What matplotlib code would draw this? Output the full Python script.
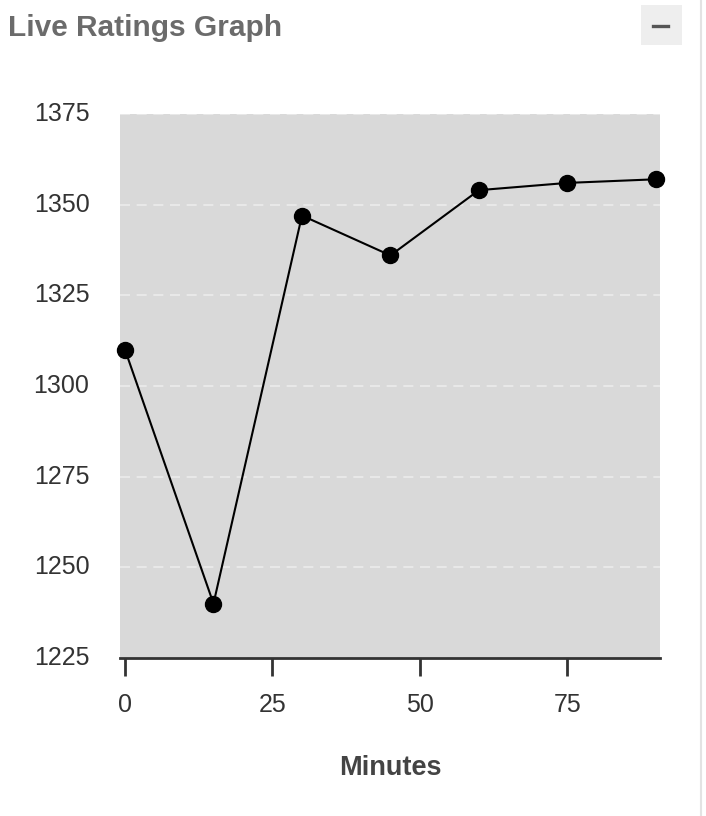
import matplotlib
matplotlib.use("Agg")
import matplotlib.pyplot as plt
from matplotlib.patches import Rectangle
from matplotlib.lines import Line2D

minutes = [0, 15, 30, 45, 60, 75, 90]
ratings = [1310, 1240, 1347, 1336, 1354, 1356, 1357]
x_ticks = [0, 25, 50, 75]
y_ticks = [1225, 1250, 1275, 1300, 1325, 1350, 1375]

plt.rcParams['font.family'] = ['Liberation Sans', 'DejaVu Sans']

W, H = 706, 816
fig = plt.figure(figsize=(W / 100, H / 100), dpi=100)
fig.patch.set_facecolor('white')

def fx(px):
    return px / W

def fy(py):
    return 1 - py / H

# Title
fig.text(fx(8), fy(36), "Live Ratings Graph", fontsize=21.5, fontweight='bold',
         color='#6b6b6b', ha='left', va='baseline')

# Minus button
fig.patches.append(Rectangle((fx(641), fy(45)), 41 / W, 40 / H, transform=fig.transFigure,
                             facecolor='#eeeeee', edgecolor='none'))
fig.lines.append(Line2D([fx(653), fx(668)], [fy(26), fy(26)], transform=fig.transFigure,
                        color='#555555', linewidth=2.4))

# Right border
fig.lines.append(Line2D([fx(701), fx(701)], [0, 1], transform=fig.transFigure,
                        color='#e3e3e3', linewidth=1.5))

ax = fig.add_axes([fx(120), fy(658), fx(660) - fx(120), (658 - 114) / H])
ax.set_facecolor('#d9d9d9')
ax.plot(minutes, ratings, color='black', linewidth=1.5, marker='o', markersize=11.5,
        zorder=3, clip_on=False)
ax.set_xlim(-0.85, 90.7)
ax.set_ylim(1225, 1375)
ax.set_xticks(x_ticks)
ax.set_yticks(y_ticks)
ax.yaxis.grid(True, color='#ececec', linestyle=(0, (6, 4)), linewidth=1.2)
ax.xaxis.grid(False)
ax.set_axisbelow(True)
for s in ['left', 'right', 'top']:
    ax.spines[s].set_visible(False)
ax.spines['bottom'].set_color('#333333')
ax.spines['bottom'].set_linewidth(2)
ax.tick_params(axis='x', direction='out', length=13, width=2, color='#333333',
               labelsize=18, labelcolor='#333333', pad=12)
ax.tick_params(axis='y', length=0, labelsize=18, labelcolor='#333333', pad=22)
for lbl in ax.get_yticklabels():
    lbl.set_verticalalignment('center')

fig.text(fx(390), fy(775), "Minutes", fontsize=19.5, fontweight='bold',
         color='#444444', ha='center', va='baseline')

fig.savefig("out.png", dpi=100)
